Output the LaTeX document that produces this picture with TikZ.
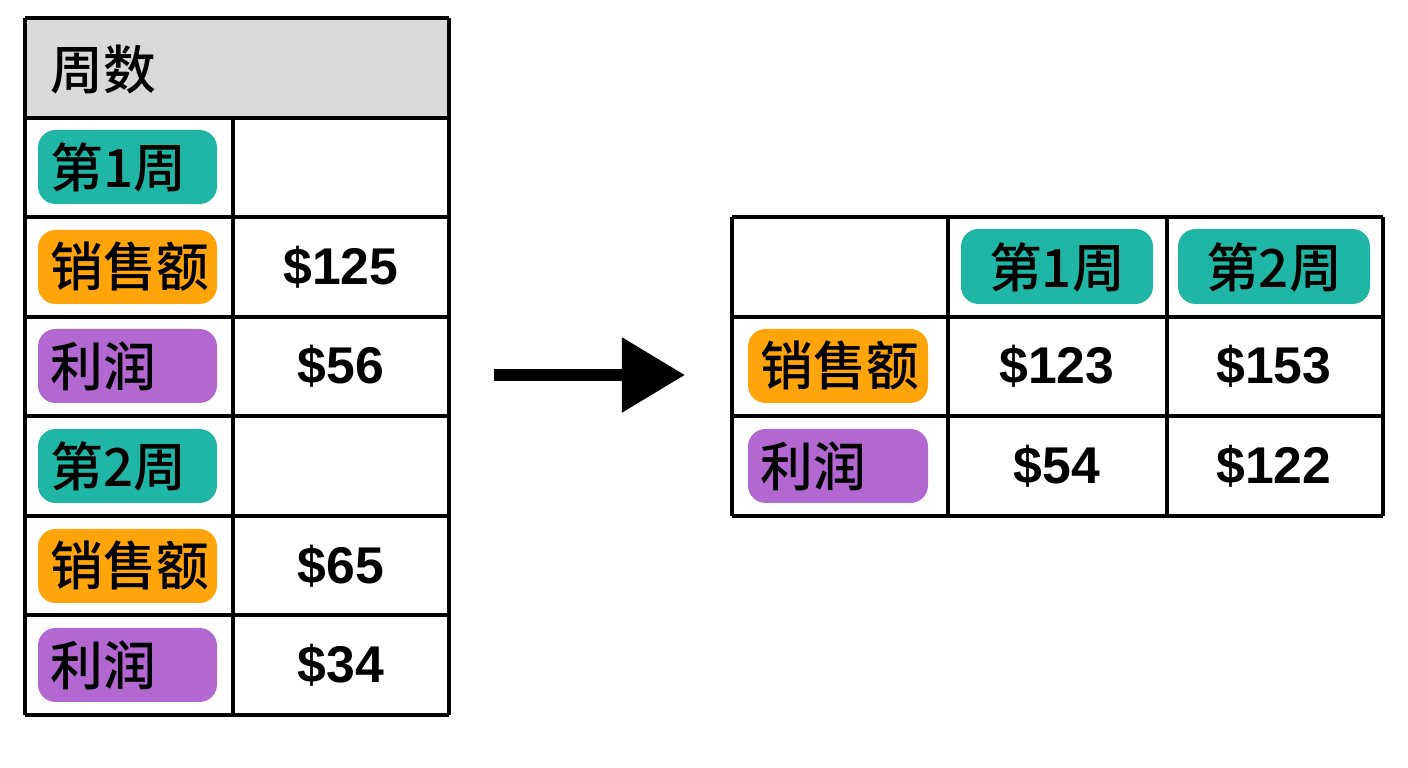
\documentclass[tikz,border=0pt]{standalone}
\usepackage{fontspec}
\setmainfont{Liberation Sans}
\newfontfamily\cjk{Noto Sans CJK SC Medium}
\usetikzlibrary{arrows.meta}
\definecolor{tealtag}{HTML}{20B6A6}
\definecolor{orangetag}{HTML}{FFA40A}
\definecolor{purpletag}{HTML}{B267D1}
\definecolor{headgray}{HTML}{D9D9D9}
\tikzset{
	val/.style={font=\fontsize{14.7}{15}\selectfont\bfseries},
	lbl/.style={inner sep=0pt, font=\cjk\fontsize{15}{15}\selectfont}
}
\begin{document}
\begin{tikzpicture}[x=0.01cm, y=-0.01cm]
	\useasboundingbox (0,0) rectangle (1408,768);
	%left table
	\fill[headgray] (25,18) rectangle (449,118);
	\foreach \y in {18,118,217,317,416,516,615,715}
	\draw[line width=1pt] (25,\y) -- (449,\y);
	\draw[line width=1pt] (25,18) -- (25,715);
	\draw[line width=1pt] (449,18) -- (449,715);
	\draw[line width=1pt] (233,118) -- (233,715);
	\node[lbl, anchor=west] (head) at (50,70) {周数};
	%tags
	\foreach \y/\c/\t/\n in {167/tealtag/第1周/wa, 267/orangetag/销售额/sa, 366/purpletag/利润/pa,
		466/tealtag/第2周/wb, 566/orangetag/销售额/sb, 665/purpletag/利润/pb}
	{
		\fill[\c, rounded corners=5pt] (38,\y-37) rectangle (217,\y+37);
		\node[lbl, anchor=west] (\n) at (50,\y) {\t};
	}
	\foreach \y/\v/\n in {267/125/va, 366/56/vb, 566/65/vc, 665/34/vd}
	\node[val] (\n) at (341,\y) {\$\v};
	%arrow
	\coordinate (from) at (494,375);
	\coordinate (to) at (685,375);
	\draw[line width=0.12cm, -{Triangle[length=0.63cm, width=0.72cm]}] (from) -- (to);
	%right table
	\foreach \y in {217,317,416,516}
	\draw[line width=1pt] (732,\y) -- (1383,\y);
	\foreach \x in {732,948,1167,1383}
	\draw[line width=1pt] (\x,217) -- (\x,516);
	\foreach \x/\c/\t/\n in {1057/tealtag/第1周/rwa, 1274/tealtag/第2周/rwb}
	{
		\fill[\c, rounded corners=5pt] (\x-96,229) rectangle (\x+96,304);
		\node[lbl] (\n) at (\x,267) {\t};
	}
	\foreach \y/\c/\t/\n in {366/orangetag/销售额/rsa, 466/purpletag/利润/rpa}
	{
		\fill[\c, rounded corners=5pt] (748,\y-37) rectangle (928,\y+37);
		\node[lbl, anchor=west] (\n) at (760,\y) {\t};
	}
	\node[val] (ra) at (1057,366) {\$123};
	\node[val] (rb) at (1274,366) {\$153};
	\node[val] (rc) at (1057,466) {\$54};
	\node[val] (rd) at (1274,466) {\$122};
\end{tikzpicture}
\end{document}
